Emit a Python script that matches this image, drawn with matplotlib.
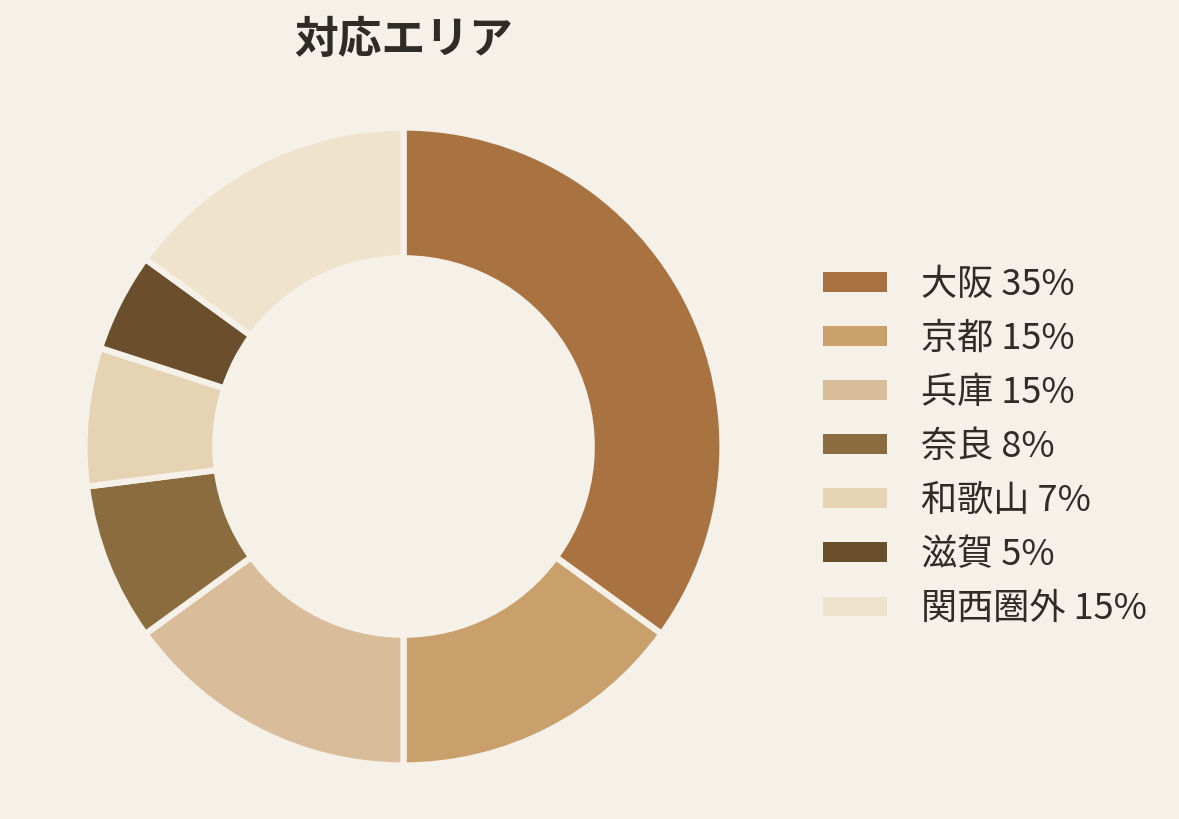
import matplotlib
matplotlib.use("Agg")
import matplotlib.pyplot as plt
from matplotlib.patches import Patch

plt.rcParams['font.family'] = ['Noto Sans CJK JP', 'DejaVu Sans']

# data
areas = ["大阪", "京都", "兵庫", "奈良", "和歌山", "滋賀", "関西圏外"]
shares = [35, 15, 15, 8, 7, 5, 15]
colors = ["#A87241", "#C99F6B", "#D9BC99", "#8B6C3E", "#E6D3B3", "#6B4E2C", "#EFE3CD"]
title = "対応エリア"

bg = "#F5F0E8"
textc = "#2F2B25"

fig = plt.figure(figsize=(11.79, 8.19), dpi=100, facecolor=bg)
# donut axes, centre about (403, 447) px, radius ~319 px
R = 319
ax = fig.add_axes([(403.5 - R) / 1179, (819 - 446.5 - R) / 819, 2 * R / 1179, 2 * R / 819])
ax.set_facecolor(bg)
wedges, _ = ax.pie(shares, colors=colors, startangle=90, counterclock=False,
                   radius=1.0, wedgeprops=dict(width=0.41, edgecolor=bg, linewidth=4.5))
ax.set_xlim(-1, 1)
ax.set_ylim(-1, 1)
ax.set_aspect("equal")
ax.axis("off")

fig.text(403.5 / 1179, 1 - 40 / 819, title, ha="center", va="center",
         fontsize=31.5, fontweight="bold", color=textc)

handles = [Patch(facecolor=c, edgecolor="none") for c in colors]
labels = [f"{a} {v}%" for a, v in zip(areas, shares)]
leg = fig.legend(handles, labels, loc="upper left", bbox_to_anchor=(823 / 1179, 1 - 267 / 819),
                 frameon=False, fontsize=26, handlelength=1.77, handleheight=0.47,
                 handletextpad=0.94, labelspacing=0.5, borderaxespad=0, borderpad=0)
for t in leg.get_texts():
    t.set_color(textc)

fig.savefig("out.png", dpi=100, facecolor=bg)
